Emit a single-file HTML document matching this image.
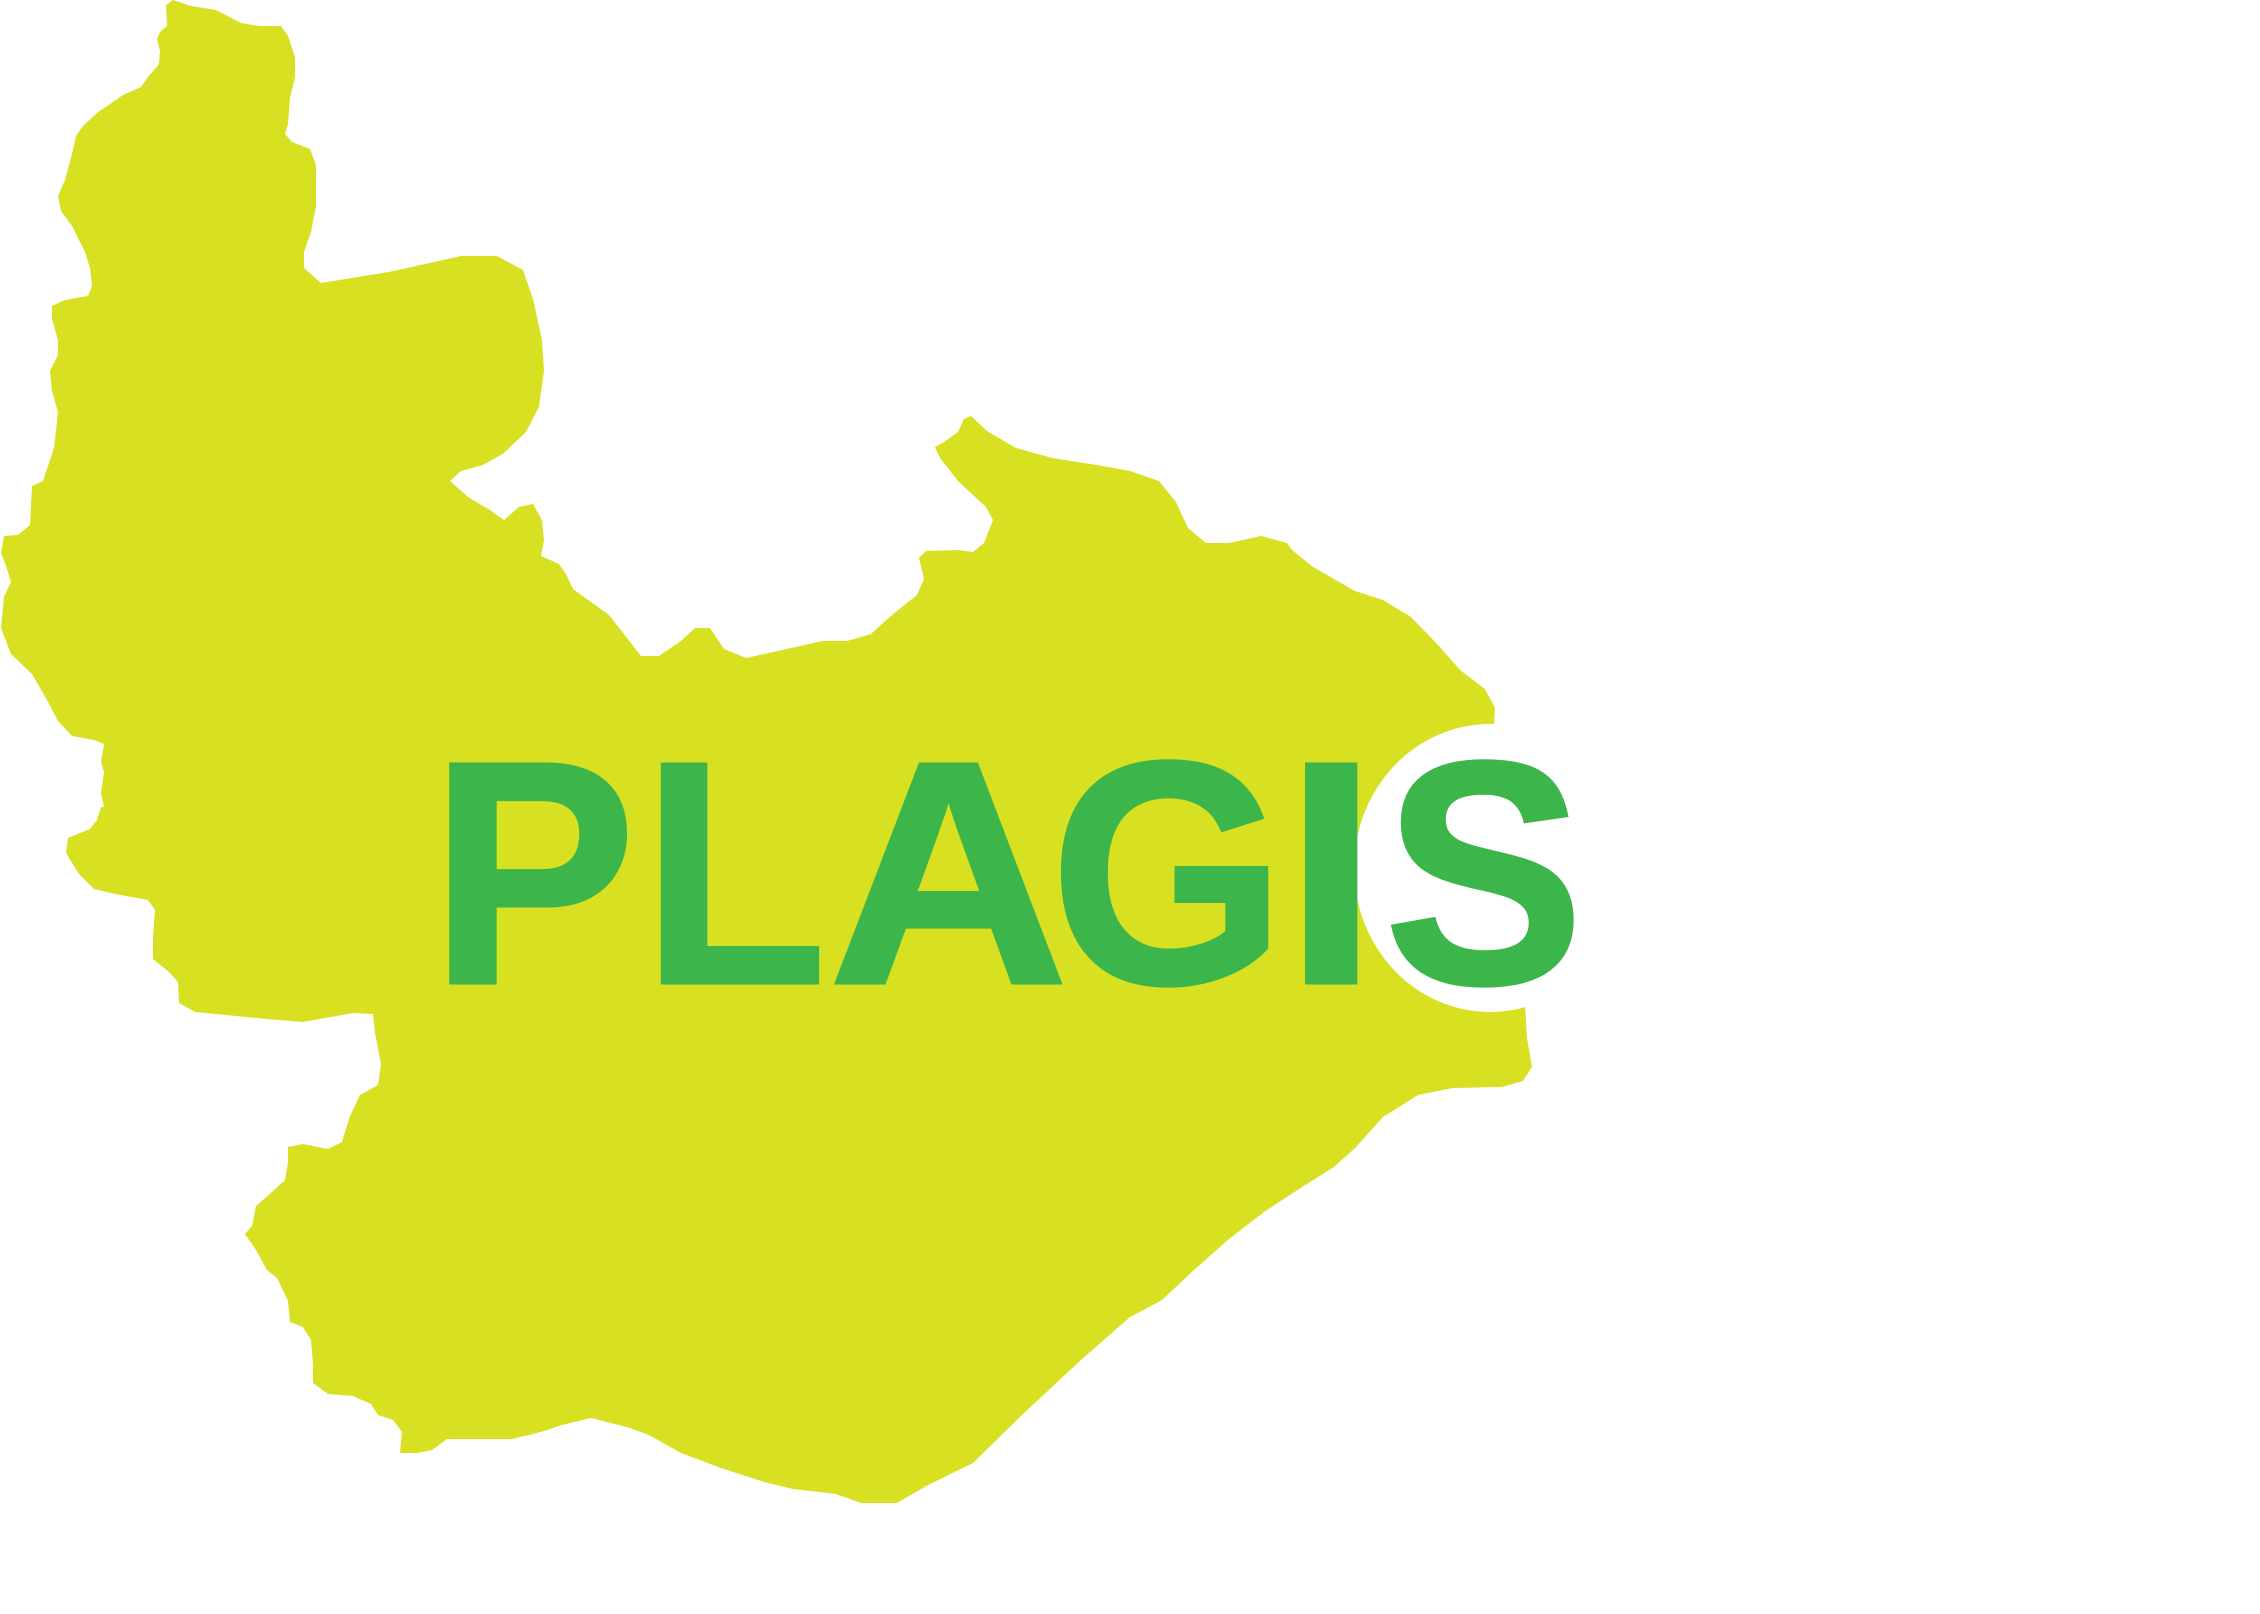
<!DOCTYPE html>
<html><head><meta charset="utf-8"><style>
html,body{margin:0;padding:0;background:#fff;}
svg{display:block;}
</style></head><body>
<svg width="2260" height="1614" viewBox="0 0 2260 1614" xmlns="http://www.w3.org/2000/svg">
<rect width="2260" height="1614" fill="#ffffff"/>
<path fill="#d7e021" d="M166,5 L173,0 L191,6 L216,10 L241,23 L259,26 L281,26 L288,36 L295,57 L295,77 L290,98 L288,124 L285,134 L292,142 L310,149 L316,165 L316,206 L311,232 L304,252 L304,268 L321,283 L389,272 L461,256 L497,256 L523,270 L533,299 L542,340 L544,371 L539,407 L526,432 L504,453 L483,465 L461,471 L450,481 L468,497 L490,510 L504,520 L519,507 L533,504 L542,520 L544,540 L541,556 L559,564 L566,574 L573,589 L591,602 L609,615 L627,638 L641,656 L659,656 L681,641 L695,628 L710,628 L724,649 L746,658 L778,651 L822,641 L847,641 L871,634 L892,615 L917,595 L924,579 L919,558 L926,551 L958,550 L973,552 L984,543 L993,520 L986,507 L958,481 L940,458 L935,447 L944,442 L958,432 L964,419 L971,416 L987,431 L1016,448 L1052,458 L1103,466 L1130,471 L1159,481 L1176,502 L1188,528 L1206,543 L1229,543 L1261,536 L1287,543 L1292,550 L1313,567 L1355,591 L1383,600 L1411,617 L1439,646 L1460,670 L1485,689 L1495,708 L1494,725 L1520,760 L1525,1007 L1527,1038 L1532,1067 L1523,1081 L1502,1087 L1453,1088 L1418,1095 L1383,1117 L1355,1148 L1334,1167 L1299,1189 L1264,1212 L1229,1239 L1194,1270 L1162,1300 L1130,1317 L1081,1360 L1023,1414 L973,1463 L930,1484 L897,1503 L861,1503 L836,1494 L793,1489 L764,1482 L721,1468 L681,1453 L649,1435 L627,1427 L591,1418 L562,1425 L544,1431 L533,1434 L512,1439 L476,1439 L447,1439 L432,1450 L418,1453 L400,1453 L402,1432 L393,1420 L378,1415 L371,1404 L353,1396 L328,1394 L313,1383 L313,1365 L311,1340 L303,1327 L290,1322 L288,1301 L277,1278 L267,1270 L256,1250 L245,1234 L252,1226 L256,1206 L272,1192 L285,1180 L288,1162 L288,1147 L303,1144 L328,1149 L342,1142 L350,1116 L360,1095 L378,1085 L381,1064 L375,1033 L373,1014 L353,1013 L303,1022 L267,1019 L195,1012 L179,1003 L178,982 L169,972 L153,959 L153,936 L155,910 L148,900 L115,894 L94,889 L79,874 L66,853 L68,838 L90,829 L97,820 L101,807 L104,807 L101,793 L104,772 L101,762 L104,744 L94,740 L72,736 L58,721 L47,700 L32,674 L11,654 L1,628 L4,597 L11,582 L6,566 L1,553 L4,536 L18,535 L30,525 L32,486 L43,481 L54,448 L58,412 L52,391 L50,371 L58,355 L58,340 L52,319 L52,306 L65,300 L88,296 L92,286 L90,268 L85,252 L72,226 L61,211 L58,196 L65,180 L72,154 L76,136 L83,126 L97,113 L123,95 L141,87 L148,77 L159,64 L160,51 L157,39 L160,32 L167,26 Z"/>
<ellipse cx="1490" cy="868" rx="136" ry="144" fill="#ffffff"/>
<g fill="#3cb54a" stroke="#3cb54a" stroke-width="3" font-family="'Liberation Sans', sans-serif" font-weight="bold" font-size="309">
<text transform="translate(430,983) scale(1.0,1.03)">P</text>
<text transform="translate(642,983) scale(0.98,1.03)">L</text>
<text transform="translate(828,983) scale(1.08,1.03)">A</text>
<text transform="translate(1050,983) scale(0.98,1.03)">G</text>
<text transform="translate(1284,983) scale(1.1,1.03)">I</text>
<text transform="translate(1384,983) scale(0.97,1.03)">S</text>
</g>
</svg>
</body></html>
